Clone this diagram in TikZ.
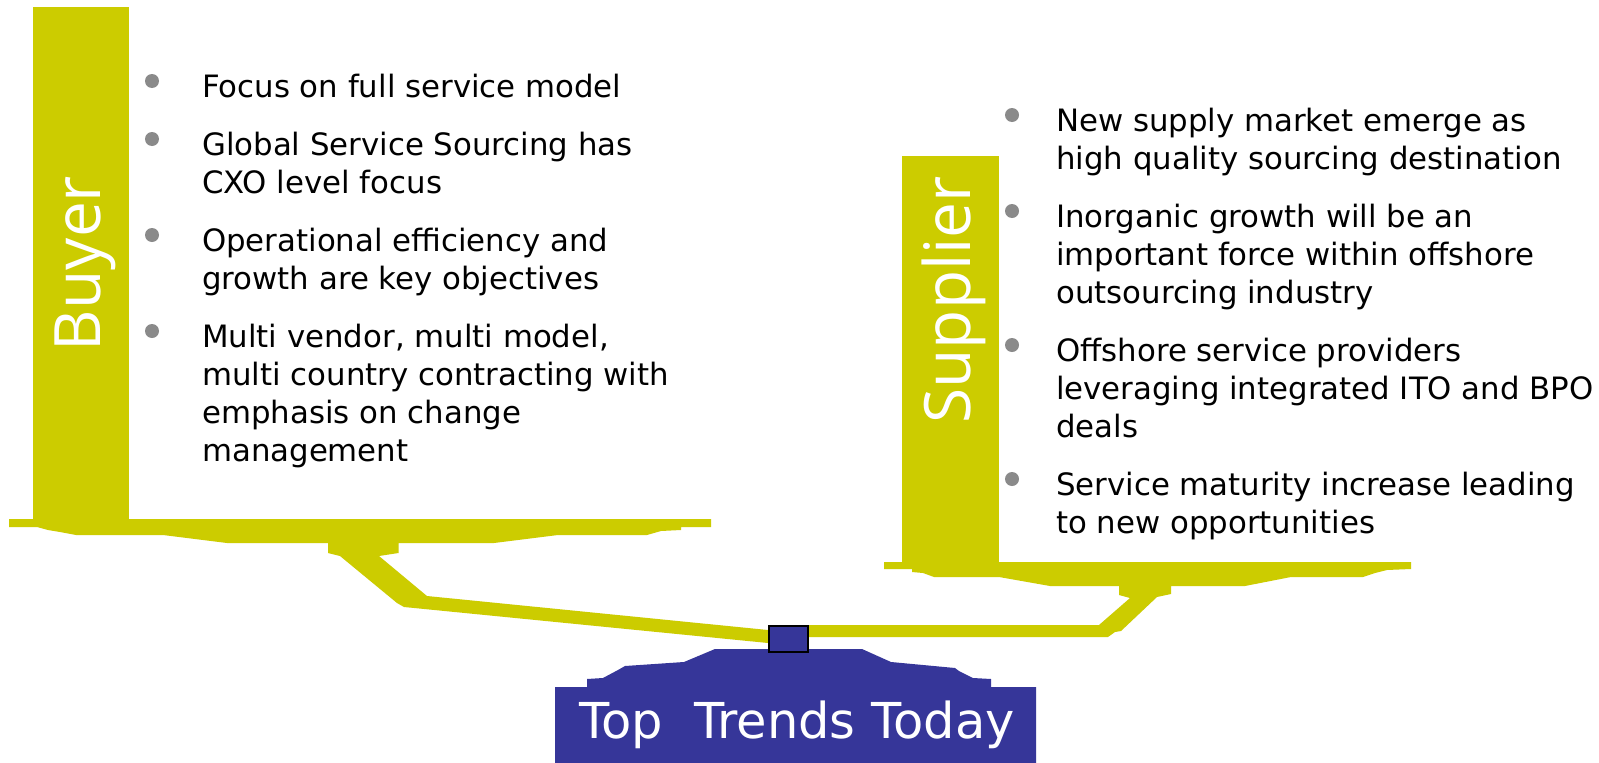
\documentclass[tikz,border=0pt]{standalone}
\usepackage{fontspec}
\setmainfont{DejaVu Sans}
\newfontfamily\labelfont{Open Sans}
\definecolor{pan}{HTML}{CCCC00}
\definecolor{tblue}{HTML}{363699}
\definecolor{dotgray}{HTML}{8A8A8A}
\newcommand\plines[1]{\vtop{\baselineskip=38pt\lineskiplimit=-50pt\halign{##\hfil\cr#1\crcr}}}
\tikzset{
  panfill/.style={fill=pan},
  bodytext/.style={anchor=base west, inner sep=0pt, font=\fontsize{30.8}{38}\selectfont, text=black},
  sidelabel/.style={anchor=base, rotate=90, inner sep=0pt, font=\labelfont\fontsize{64}{70}\selectfont, text=white},
  dot/.style={fill=dotgray}
}
\begin{document}
\begin{tikzpicture}[x=1pt,y=-1pt]
\useasboundingbox (0,0) rectangle (1599,763);
\fill[white] (0,0) rectangle (1599,763);

% Buyer pan
\fill[panfill] (33,7) rectangle (129,520);
\fill[panfill] (9,519) -- (711,519) -- (711,527) -- (681,527) -- (681,530) -- (661,531) -- (647,535) -- (558,535) -- (494,543) -- (398.5,543) -- (398.5,553) -- (379,556) -- (427,596) -- (768,630) -- (768,643) -- (404,607) -- (397,603) -- (340,556) -- (328,553) -- (328,543) -- (227,543) -- (163,535) -- (76,535) -- (60,532) -- (48,530) -- (37,527) -- (9,527) -- cycle;

% Supplier pan
\fill[panfill] (902,156) rectangle (999,563);
\fill[panfill] (884,562) -- (1411,562) -- (1411,569) -- (1387,570) -- (1375,573) -- (1363,577) -- (1291,577) -- (1245,586) -- (1171,586) -- (1171,594) -- (1157,597) -- (1121,631) -- (1115,632) -- (1108,637) -- (790,637) -- (790,625) -- (1099,625) -- (1130,598) -- (1119,595) -- (1119,586) -- (1050,586) -- (999,577) -- (934,577) -- (923,573) -- (912,572) -- (912,569) -- (884,569) -- cycle;

% Base
\fill[tblue] (555,763) -- (555,687) -- (587,687) -- (587,679) -- (603,678) -- (618,670) -- (625,666) -- (684,662) -- (715,649) -- (862,649) -- (891,662) -- (955,668) -- (959,671) -- (973,678) -- (991,679) -- (991,687) -- (1036,687) -- (1036,763) -- cycle;

% Pivot
\filldraw[fill=tblue, draw=black, line width=2pt] (769,626) rectangle (808,652);

% Labels
\node[sidelabel] (buyer) at (100,263.5) {Buyer};
\node[sidelabel] (supplier) at (970,300) {Supplier};
\node[anchor=base, inner sep=0pt, font=\fontsize{49.5}{56}\selectfont, text=white] (title) at (797,738) {Top\ \ Trends Today};

% Buyer bullets
\fill[dot] (152,81) circle (7pt);
\fill[dot] (152,139) circle (7pt);
\fill[dot] (152,235) circle (7pt);
\fill[dot] (152,331) circle (7pt);
\node[bodytext] (b1) at (202,97) {\plines{Focus on full service model}};
\node[bodytext] (b2) at (202,155) {\plines{Global Service Sourcing has\cr CXO level focus}};
\node[bodytext] (b3) at (202,251) {\plines{Operational efficiency and\cr growth are key objectives}};
\node[bodytext] (b4) at (202,347) {\plines{Multi vendor, multi model,\cr multi country contracting with\cr emphasis on change\cr management}};

% Supplier bullets
\fill[dot] (1012,115) circle (7pt);
\fill[dot] (1012,211) circle (7pt);
\fill[dot] (1012,345) circle (7pt);
\fill[dot] (1012,479) circle (7pt);
\node[bodytext] (s1) at (1056,131) {\plines{New supply market emerge as\cr high quality sourcing destination}};
\node[bodytext] (s2) at (1056,227) {\plines{Inorganic growth will be an\cr important force within offshore\cr outsourcing industry}};
\node[bodytext] (s3) at (1056,361) {\plines{Offshore service providers\cr leveraging integrated ITO and BPO\cr deals}};
\node[bodytext] (s4) at (1056,495) {\plines{Service maturity increase leading\cr to new opportunities}};
\end{tikzpicture}
\end{document}
